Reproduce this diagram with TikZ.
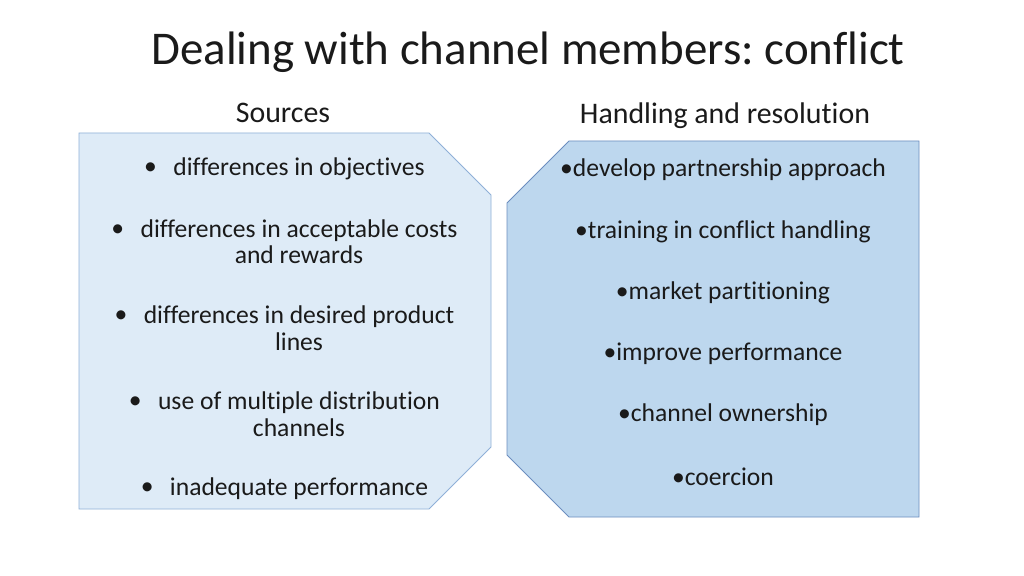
\documentclass[tikz,border=0pt]{standalone}
\usepackage{fontspec}
\setmainfont{Carlito}[RawFeature={-liga}]
\frenchspacing
\definecolor{lfill}{HTML}{DEEBF7}
\definecolor{ldraw}{HTML}{8FB0D8}
\definecolor{rfill}{HTML}{BDD7EE}
\definecolor{rdraw}{HTML}{6C8EBF}
\definecolor{txt}{HTML}{1A1A1A}
\begin{document}
\begin{tikzpicture}[x=0.9375pt,y=-0.9375pt,
  title/.style={font=\fontsize{44}{52}\selectfont, inner sep=0pt, text=txt},
  head/.style={font=\fontsize{28}{33}\selectfont, inner sep=0pt, text=txt},
  item/.style={font=\fontsize{24}{29}\selectfont, inner sep=0pt, text=txt},
  bul/.style={font=\fontsize{24}{29}\selectfont, inner sep=0pt, anchor=east, xshift=-15pt, text=txt},
  lshape/.style={fill=lfill, draw=ldraw, line width=0.9pt},
  rshape/.style={fill=rfill, draw=rdraw, line width=0.9pt}]
\useasboundingbox (0,0) rectangle (1024,576);
\fill[white] (0,0) rectangle (1024,576);
% shapes
\draw[lshape] (79,133) -- (429,133) -- (491,195) -- (491,447) -- (429,509) -- (79,509) -- cycle;
\draw[rshape] (569,141) -- (919,141) -- (919,517) -- (569,517) -- (507,455) -- (507,203) -- cycle;
% title and headings
\node[title] (title) at (528,52) {Dealing with channel members: conflict};
\node[head] (hs) at (283,113) {Sources};
\node[head] (hr) at (725,116) {Handling and resolution};
% left items
\node[item] (s1) at (299,169) {differences in objectives};
\node[bul] (b1) at (s1.west) {•};
\node[item] (s2a) at (299,231) {differences in acceptable costs};
\node[item] (s2b) at (299,255) {and rewards};
\node[bul] (b2) at (s2a.west) {•};
\node[item] (s3a) at (299,317) {differences in desired product};
\node[item] (s3b) at (299,342) {lines};
\node[bul] (b3) at (s3a.west) {•};
\node[item] (s4a) at (299,403) {use of multiple distribution};
\node[item] (s4b) at (299,428) {channels};
\node[bul] (b4) at (s4a.west) {•};
\node[item] (s5) at (299,489) {inadequate performance};
\node[bul] (b5) at (s5.west) {•};
% right items
\node[item] (r1) at (723,170) {•develop partnership approach};
\node[item] (r2) at (723,232) {•training in conflict handling};
\node[item] (r3) at (723,293) {•market partitioning};
\node[item] (r4) at (723,354) {•improve performance};
\node[item] (r5) at (723,415) {•channel ownership};
\node[item] (r6) at (723,477) {•coercion};
\end{tikzpicture}
\end{document}
